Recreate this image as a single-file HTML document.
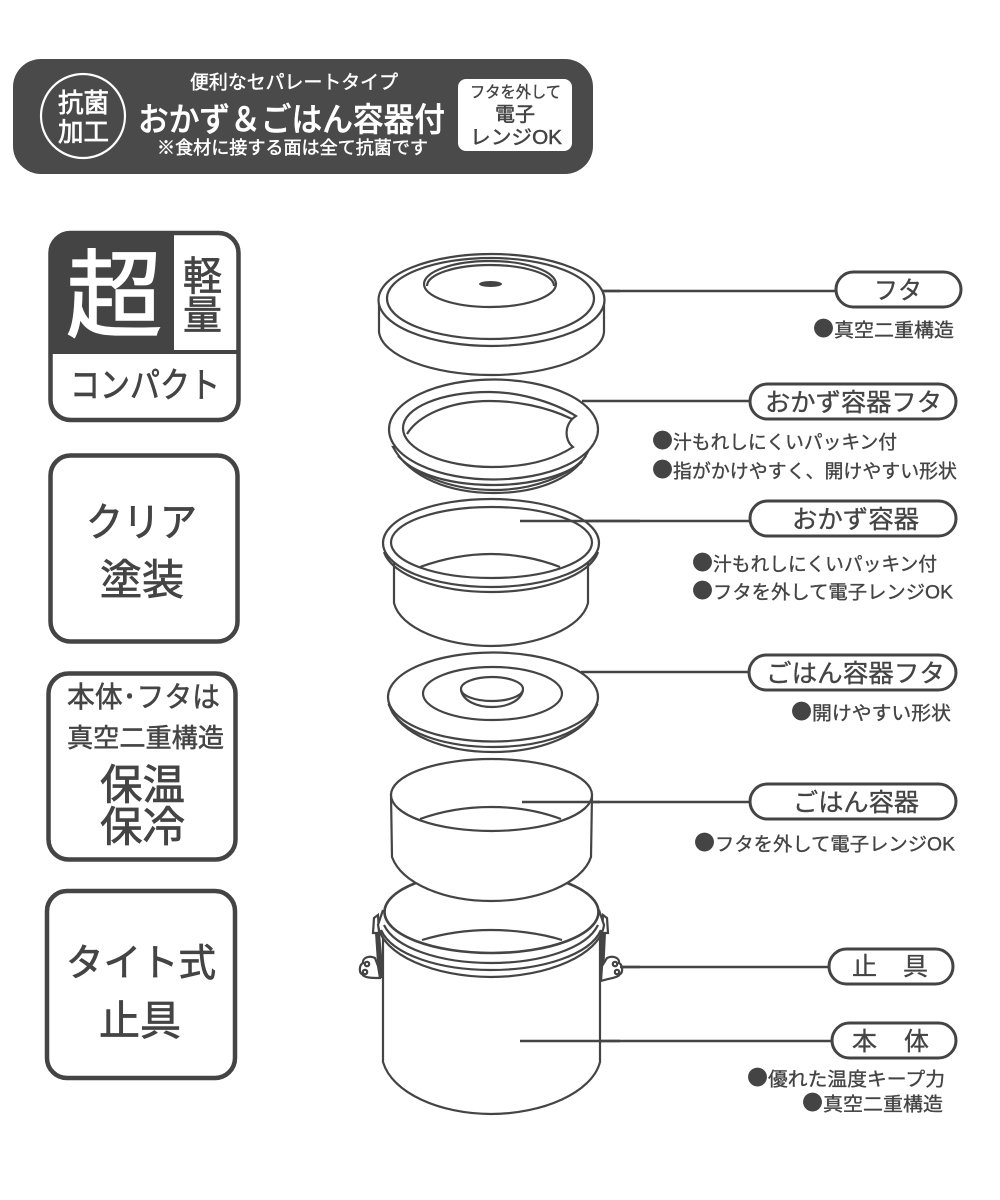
<!DOCTYPE html>
<html lang="ja">
<head>
<meta charset="utf-8">
<title>Diagram</title>
<style>
html,body{margin:0;padding:0;background:#fff;}
svg{display:block;}
text{font-family:"Liberation Sans","Noto Sans CJK JP",sans-serif;fill:#444;stroke:#444;stroke-width:.35;dominant-baseline:central;}
text.h{stroke-width:.75;}
text.w{fill:#fff;stroke:#fff;stroke-width:.45;}
text.x{stroke-width:1.2;}
text.d{font-family:"Noto Sans CJK JP",sans-serif;font-size:21px;stroke:none;}
.j{font-family:"Noto Sans CJK JP",sans-serif;}
.l{fill:#fff;stroke:#444;stroke-width:2.2;}
.n{fill:none;stroke:#444;stroke-width:2.2;}
.c{fill:none;stroke:#444;stroke-width:2.4;}
.b{fill:#fff;stroke:#444;stroke-width:4.5;}
.p{fill:#fff;stroke:#444;stroke-width:3;}
</style>
</head>
<body>
<svg xmlns="http://www.w3.org/2000/svg" width="1000" height="1200" viewBox="0 0 1000 1200">
<rect width="1000" height="1200" fill="#fff"/>

<!-- banner -->
<rect x="13" y="59" width="580" height="115" rx="28" fill="#4a4a4a"/>
<circle cx="83" cy="116" r="42" fill="none" stroke="#fff" stroke-width="2.2"/>
<text class="w x" x="58" y="103" font-size="26" textLength="51" lengthAdjust="spacingAndGlyphs" style="stroke-width:.7">抗菌</text>
<text class="w x" x="58" y="132" font-size="26" textLength="51" lengthAdjust="spacingAndGlyphs" style="stroke-width:.7">加工</text>
<text class="w" x="190" y="83" font-size="19" textLength="208" lengthAdjust="spacingAndGlyphs">便利なセパレートタイプ</text>
<text class="w j" x="138" y="117" font-size="33" font-weight="500" textLength="307" lengthAdjust="spacingAndGlyphs">おかず＆ごはん容器付</text>
<text class="w" x="157" y="148" font-size="18" textLength="271" lengthAdjust="spacingAndGlyphs">※食材に接する面は全て抗菌です</text>
<rect x="458" y="79" width="114" height="72" rx="8" fill="#fff"/>
<text x="470" y="93" font-size="16" textLength="91" lengthAdjust="spacingAndGlyphs">フタを外して</text>
<text class="h" x="495" y="115" font-size="20" textLength="40" lengthAdjust="spacingAndGlyphs" style="stroke-width:.5">電子</text>
<text class="h" x="470" y="138" font-size="20" textLength="92" lengthAdjust="spacingAndGlyphs" style="stroke-width:.5">レンジOK</text>

<!-- left boxes -->
<rect class="b" x="50.5" y="233" width="188" height="187" rx="20"/>
<path d="M50.5 352V253a20 20 0 0 1 20-20H174V352Z" fill="#444"/>
<path d="M50 352H238" stroke="#444" stroke-width="4" fill="none"/>
<text class="w x" x="66" y="297" font-size="96" textLength="96" lengthAdjust="spacingAndGlyphs" style="stroke-width:1.4">超</text>
<text class="h" x="183" y="277" font-size="40" textLength="39" lengthAdjust="spacingAndGlyphs">軽</text>
<text class="h" x="183" y="316" font-size="40" textLength="39" lengthAdjust="spacingAndGlyphs">量</text>
<text class="h" x="70" y="386" font-size="35" textLength="150" lengthAdjust="spacingAndGlyphs">コンパクト</text>

<rect class="b" x="50.5" y="455.5" width="187" height="186" rx="20"/>
<text class="h" x="86" y="523" font-size="40" textLength="111" lengthAdjust="spacingAndGlyphs">クリア</text>
<text class="h" x="100" y="580" font-size="42" textLength="84" lengthAdjust="spacingAndGlyphs">塗装</text>

<rect class="b" x="48.5" y="673.5" width="187" height="186" rx="20"/>
<text x="67" y="698" font-size="29" textLength="153" lengthAdjust="spacingAndGlyphs" style="stroke-width:.5">本体･フタは</text>
<text x="67" y="738" font-size="26" textLength="157" lengthAdjust="spacingAndGlyphs" style="stroke-width:.5">真空二重構造</text>
<text class="h" x="100" y="785" font-size="42" textLength="85" lengthAdjust="spacingAndGlyphs">保温</text>
<text class="h" x="100" y="827" font-size="42" textLength="85" lengthAdjust="spacingAndGlyphs">保冷</text>

<rect class="b" x="47" y="891" width="188" height="187" rx="20"/>
<text class="h" x="66" y="964" font-size="38" textLength="150" lengthAdjust="spacingAndGlyphs">タイト式</text>
<text class="h" x="99" y="1021" font-size="41" textLength="82" lengthAdjust="spacingAndGlyphs">止具</text>

<!-- leader lines -->
<path class="c" d="M603 291H836M582 401H750M520 521H750M581 672H749M522 802H750M622 967H829M520 1041H832"/>

<!-- lid -->
<path class="l" d="M379 300V332C382 356 432 375 491 375S602 356 604 332V300Z"/>
<ellipse class="l" cx="491.5" cy="300" rx="113" ry="46"/>
<ellipse class="n" cx="490.5" cy="298.5" rx="103.5" ry="40.5"/>
<ellipse class="n" cx="490" cy="284" rx="66" ry="23"/>
<path class="n" d="M427 286C427 274 456 265 490 265S554 274 554 286"/>
<ellipse cx="490.5" cy="284" rx="11.5" ry="3" fill="#444"/>
<path class="c" d="M603 291H620"/>

<!-- side dish lid -->
<path class="l" d="M393 447C410 478 450 493 494 493S578 478 590 447Z"/>
<path class="n" d="M398 456C420 478 455 490 494 490S570 476 586 456"/>
<path class="n" d="M404 462C425 478 458 485 494 485S565 476 582 462"/>
<ellipse class="l" cx="493.5" cy="429.5" rx="104.5" ry="50"/>
<path class="n" d="M576 416C550 400 515 392 490 392C440 392 403 408 403 428C403 450 445 467 492 467C525 467 553 460 573 447C564 440 564 424 576 416Z"/>
<path class="n" d="M572 419C545 406 515 401 490 401C448 401 418 416 407 434"/>

<!-- side dish -->
<path class="l" d="M394 560V603C400 628 445 646 491 646S582 628 588 603V560Z"/>
<path class="n" d="M384 552C392 576 440 592 491 592S590 576 598 552"/>
<ellipse class="l" cx="491" cy="543" rx="108" ry="44"/>
<ellipse class="n" cx="491.5" cy="542.5" rx="100.5" ry="35.5"/>
<path class="n" d="M420 567C445 558 470 554 491 554S537 558 560 567"/>
<path class="c" d="M520 521H640"/>

<!-- rice lid -->
<path class="l" d="M389 705C400 735 445 752 493 752S585 735 597 705Z"/>
<path class="n" d="M392 712C408 736 450 747 493 747S578 736 594 712"/>
<ellipse class="l" cx="493" cy="697" rx="105" ry="44.5"/>
<ellipse class="n" cx="492.5" cy="693.5" rx="69.5" ry="26.5"/>
<path class="n" d="M461 690C463 701 477 707 492 707S521 701 523 690"/>
<ellipse class="l" cx="492" cy="689" rx="31" ry="12"/>

<!-- body -->
<path class="l" d="M383 930V1062C392 1093 440 1114 491 1114S592 1093 600 1062V930Z"/>
<!-- clamps -->
<path class="n" d="M374 918L378 915 379 933 373 933Z"/>
<path d="M375 933L380 933 384 978 378 978Z" fill="#444"/>
<path class="l" d="M375 958C369 955 362 958 363 963C359 965 359 973 362 974C364 978 372 978 380 978L378 966Z"/>
<circle class="n" cx="367" cy="964" r="2.2"/>
<circle class="n" cx="365" cy="972" r="2.2"/>
<path class="n" d="M607 918L603 915 602 933 608 933Z"/>
<path d="M606 933L601 933 599 978 604 975Z" fill="#444"/>
<path class="l" d="M607 958C613 955 620 958 619 963C623 965 623 973 620 974C618 978 610 978 601 981L602 966Z"/>
<circle class="n" cx="615" cy="964" r="2.2"/>
<circle class="n" cx="617" cy="972" r="2.2"/>
<path class="c" d="M620 967H640"/>
<!-- body rim -->
<path class="l" d="M383 910L378 925C382 955 435 977 491 977S600 955 604 925L599 910"/>
<path class="n" d="M381 930C392 955 440 970 491 970S590 955 601 930"/>
<path class="n" d="M384 925C395 948 440 963 491 963S587 948 598 925"/>
<ellipse class="l" cx="491.5" cy="912" rx="107" ry="41" style="stroke-width:2.6"/>
<path class="n" d="M422 940C445 933 470 930 491 930S540 933 562 940"/>
<path class="c" d="M520 1041H620"/>

<!-- rice bowl -->
<path class="l" d="M391 795L392 857C402 884 445 901 491 901S582 884 591 857L592 795Z"/>
<ellipse class="l" cx="491.5" cy="795" rx="100.5" ry="36"/>
<path class="n" d="M420 819C445 810 470 807 491 807S537 810 561 819"/>
<path class="c" d="M522 802H600"/>

<!-- pills -->
<rect class="p" x="836" y="272" width="125" height="35" rx="17.5"/>
<rect class="p" x="750" y="384" width="206" height="35" rx="17.5"/>
<rect class="p" x="750" y="501" width="206" height="35" rx="17.5"/>
<rect class="p" x="749" y="655" width="207" height="35" rx="17.5"/>
<rect class="p" x="750" y="784" width="206" height="35" rx="17.5"/>
<rect class="p" x="829" y="949" width="124" height="35" rx="17.5"/>
<rect class="p" x="832" y="1023" width="124" height="35" rx="17.5"/>
<text x="874" y="291" font-size="25" textLength="48" lengthAdjust="spacingAndGlyphs">フタ</text>
<text x="765" y="403" font-size="25" textLength="177" lengthAdjust="spacingAndGlyphs">おかず容器フタ</text>
<text x="792" y="520" font-size="25" textLength="127" lengthAdjust="spacingAndGlyphs">おかず容器</text>
<text x="766" y="674" font-size="25" textLength="179" lengthAdjust="spacingAndGlyphs">ごはん容器フタ</text>
<text x="793" y="803" font-size="25" textLength="126" lengthAdjust="spacingAndGlyphs">ごはん容器</text>
<text x="852" y="967" font-size="25">止</text>
<text x="903" y="967" font-size="25">具</text>
<text x="852" y="1042" font-size="25">本</text>
<text x="904" y="1042" font-size="25">体</text>

<!-- notes -->
<text class="d" x="813" y="328">●</text><text x="834" y="331" font-size="19" textLength="120" lengthAdjust="spacingAndGlyphs">真空二重構造</text>
<text class="d" x="652" y="440">●</text><text x="673" y="443" font-size="19" textLength="224" lengthAdjust="spacingAndGlyphs">汁もれしにくいパッキン付</text>
<text class="d" x="652" y="469">●</text><text x="673" y="472" font-size="19" textLength="284" lengthAdjust="spacingAndGlyphs">指がかけやすく、開けやすい形状</text>
<text class="d" x="692" y="562">●</text><text x="713" y="565" font-size="19" textLength="224" lengthAdjust="spacingAndGlyphs">汁もれしにくいパッキン付</text>
<text class="d" x="692" y="590">●</text><text x="713" y="593" font-size="19" textLength="240" lengthAdjust="spacingAndGlyphs">フタを外して電子レンジOK</text>
<text class="d" x="791" y="711">●</text><text x="812" y="714" font-size="19" textLength="139" lengthAdjust="spacingAndGlyphs">開けやすい形状</text>
<text class="d" x="694" y="842">●</text><text x="715" y="845" font-size="19" textLength="240" lengthAdjust="spacingAndGlyphs">フタを外して電子レンジOK</text>
<text class="d" x="747" y="1077">●</text><text x="768" y="1080" font-size="19" textLength="177" lengthAdjust="spacingAndGlyphs">優れた温度キープ力</text>
<text class="d" x="802" y="1102">●</text><text x="823" y="1105" font-size="19" textLength="120" lengthAdjust="spacingAndGlyphs">真空二重構造</text>
</svg>
</body>
</html>
